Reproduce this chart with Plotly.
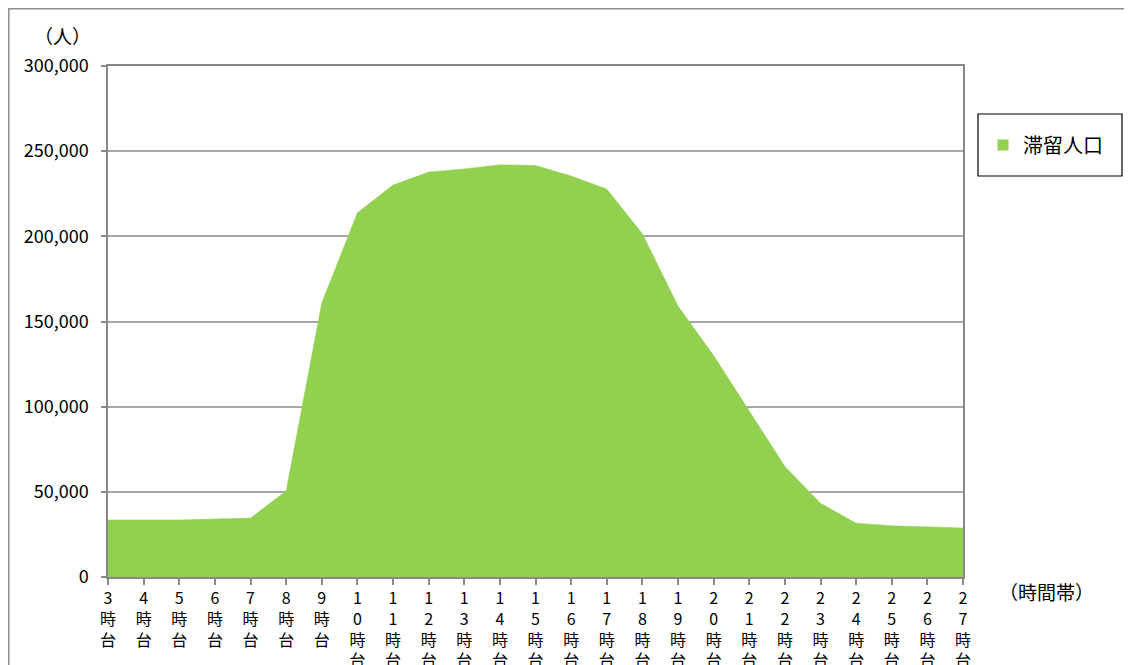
import plotly.graph_objects as go

hours = [3, 4, 5, 6, 7, 8, 9, 10, 11, 12, 13, 14, 15, 16, 17, 18, 19, 20, 21, 22, 23, 24, 25, 26, 27]
categories = [f"{h}時台" for h in hours]
tick_labels = ["<br>".join(list(str(h)) + ["時", "台"]) for h in hours]
population = [33500, 33500, 33500, 34000, 34600, 50500, 160800, 213800, 230100, 237700,
              239600, 242000, 241600, 235400, 227800, 201500, 159100, 130000, 97800, 64900,
              43300, 31600, 30100, 29500, 28800]
y_ticks = [0, 50000, 100000, 150000, 200000, 250000, 300000]
y_tick_text = ["0", "50,000", "100,000", "150,000", "200,000", "250,000", "300,000"]

GREEN = "#92D050"
FONT = "Noto Sans CJK JP"

# page body has an 8px margin; target positions are in window pixels
OFF = 8
PL, PR, PT, PB = 108, 963, 66, 577  # plot area in window pixels
W, H = 1132 - OFF, 665 - OFF
L, T = PL - OFF, PT - OFF
R = W - (PR - OFF)
B = H - (PB - OFF)
PW, PH = PR - PL, PB - PT


def px(x):
    return (x - PL) / PW


def py(y):
    return (PB - y) / PH


fig = go.Figure()
fig.add_trace(go.Scatter(
    x=categories, y=population, mode="lines", fill="tozeroy",
    fillcolor=GREEN, line=dict(color=GREEN, width=0.5),
    name="滞留人口", showlegend=False, hoverinfo="x+y",
))
fig.add_trace(go.Scatter(
    x=[None], y=[None], mode="markers", name="滞留人口",
    marker=dict(symbol="square", size=11, color=GREEN), showlegend=True,
))

fig.update_layout(
    width=W, height=H,
    margin=dict(l=L, r=R, t=T, b=B, autoexpand=False),
    paper_bgcolor="white", plot_bgcolor="white",
    font=dict(family=FONT, size=16, color="#000000"),
    legend=dict(x=px(983), y=py(145), xanchor="left", yanchor="middle",
                bgcolor="rgba(0,0,0,0)", borderwidth=0,
                font=dict(family=FONT, size=20, color="#000000"), itemwidth=30),
    xaxis=dict(type="category", range=[0, 24], tickmode="array",
               tickvals=categories, ticktext=tick_labels, tickangle=0,
               showline=True, linecolor="#888888", linewidth=1.5, mirror=True,
               ticks="outside", ticklen=6, tickcolor="#888888", tickwidth=1.5,
               showgrid=False, zeroline=False,
               tickfont=dict(family=FONT, size=16, color="#000000")),
    yaxis=dict(range=[0, 300000], tickmode="array", tickvals=y_ticks,
               ticktext=y_tick_text,
               showline=True, linecolor="#888888", linewidth=1.5, mirror=True,
               ticks="outside", ticklen=5, tickcolor="#888888", tickwidth=1.5,
               showgrid=True, gridcolor="#a6a6a6", gridwidth=1.5, zeroline=False,
               ticklabelstandoff=9,
               tickfont=dict(family=FONT, size=18, color="#000000")),
    shapes=[
        dict(type="rect", xref="paper", yref="paper",
             x0=px(8.8), x1=px(1145), y0=py(680), y1=py(8.8),
             line=dict(color="#8c8c8c", width=1.5), fillcolor="rgba(0,0,0,0)", layer="below"),
        dict(type="rect", xref="paper", yref="paper",
             x0=px(978), x1=px(1122), y0=py(176), y1=py(114),
             line=dict(color="#000000", width=1.2), fillcolor="rgba(0,0,0,0)"),
    ],
    annotations=[
        dict(text="（人）", xref="paper", yref="paper", x=px(62), y=py(36),
             xanchor="center", yanchor="middle", showarrow=False,
             font=dict(family=FONT, size=19, color="#000000")),
        dict(text="（時間帯）", xref="paper", yref="paper", x=px(1046), y=py(591),
             xanchor="center", yanchor="middle", showarrow=False,
             font=dict(family=FONT, size=19, color="#000000")),
    ],
)

fig.write_html("out.html")
